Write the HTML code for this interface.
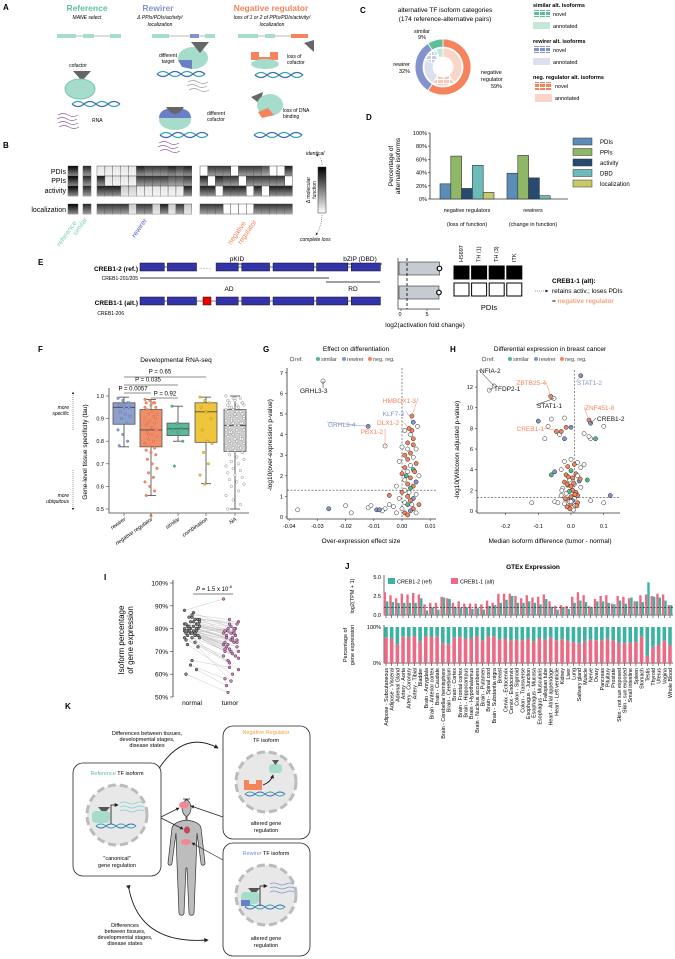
<!DOCTYPE html>
<html><head><meta charset="utf-8"><style>
html,body{margin:0;padding:0;background:#fff;}
svg{display:block;font-family:"Liberation Sans",Arial,sans-serif;}
</style></head><body>
<svg id="fig" width="675" height="959" viewBox="0 0 675 959" xmlns="http://www.w3.org/2000/svg">
<defs>
<linearGradient id="shade" x1="0" y1="0" x2="0" y2="1"><stop offset="0" stop-color="#fff" stop-opacity="0"/><stop offset="1" stop-color="#fff" stop-opacity="0.55"/></linearGradient>
<linearGradient id="legGrad" x1="0" y1="0" x2="0" y2="1"><stop offset="0" stop-color="#000"/><stop offset="1" stop-color="#fff"/></linearGradient>
<pattern id="hatchG" width="6" height="4" patternUnits="userSpaceOnUse"><rect width="6" height="4" fill="#fff"/><rect width="5" height="3" fill="#5cbf97"/></pattern>
<pattern id="hatchB" width="6" height="4" patternUnits="userSpaceOnUse"><rect width="6" height="4" fill="#fff"/><rect width="5" height="3" fill="#8393cc"/></pattern>
<pattern id="hatchO" width="6" height="4" patternUnits="userSpaceOnUse"><rect width="6" height="4" fill="#fff"/><rect width="5" height="3" fill="#f5845c"/></pattern>
<pattern id="hatchBl" width="6" height="4" patternUnits="userSpaceOnUse"><rect width="6" height="4" fill="#fff"/><rect width="5" height="3" fill="#c5cce6"/></pattern>
<pattern id="hatchOl" width="6" height="4" patternUnits="userSpaceOnUse"><rect width="6" height="4" fill="#fff"/><rect width="5" height="3" fill="#f8c9b6"/></pattern>
<pattern id="hatchGl" width="6" height="4" patternUnits="userSpaceOnUse"><rect width="6" height="4" fill="#fff"/><rect width="5" height="3" fill="#bfe5d4"/></pattern>
<marker id="arr" viewBox="0 0 6 6" refX="5" refY="3" markerWidth="5" markerHeight="5" orient="auto"><path d="M0,0L6,3L0,6z" fill="#222"/></marker>
</defs>

<!-- PANEL A -->
<g font-size="6">
<text x="3" y="10" font-size="8" font-weight="bold">A</text>
<text x="87" y="11" text-anchor="middle" font-size="8.5" font-weight="bold" fill="#5cc3a0">Reference</text>
<text x="87" y="19" text-anchor="middle" font-style="italic" font-size="5">MANE select</text>
<text x="158" y="11" text-anchor="middle" font-size="8.5" font-weight="bold" fill="#8393cc">Rewirer</text>
<text x="160" y="19" text-anchor="middle" font-style="italic" font-size="5">Δ PPIs/PDIs/activity/</text>
<text x="160" y="26" text-anchor="middle" font-style="italic" font-size="5">localization</text>
<text x="271" y="11" text-anchor="middle" font-size="8.5" font-weight="bold" fill="#f5845c">Negative regulator</text>
<text x="272" y="19" text-anchor="middle" font-style="italic" font-size="5">loss of 1 or 2 of PPIs/PDIs/activity/</text>
<text x="272" y="26" text-anchor="middle" font-style="italic" font-size="5">localization</text>
<g>
<line x1="57" y1="36" x2="120" y2="36" stroke="#bbb" stroke-width="1"/>
<rect x="57" y="34" width="19" height="4" fill="#a6dccb"/><rect x="83" y="34" width="11" height="4" fill="#a6dccb"/><rect x="110" y="34" width="11" height="4" fill="#a6dccb"/>
<line x1="152" y1="36" x2="215" y2="36" stroke="#bbb"/>
<rect x="152" y="34" width="17" height="4" fill="#a6dccb"/><rect x="190" y="34" width="9" height="4" fill="#8393cc"/><rect x="205" y="34" width="10" height="4" fill="#a6dccb"/>
<line x1="238" y1="36" x2="308" y2="36" stroke="#bbb"/>
<rect x="238" y="34" width="20" height="4" fill="#a6dccb"/><rect x="265" y="34" width="10" height="4" fill="#a6dccb"/><rect x="291" y="34" width="17" height="4" fill="#f5845c"/>
</g>
<g>
<text x="78" y="67" text-anchor="middle" font-size="5">cofactor</text>
<path d="M73,71 L91,71 L82,81 Z" fill="#666"/>
<ellipse cx="80" cy="89" rx="15" ry="10" fill="#a6dccb" stroke="#7cc7ae"/>
<path d="M72,104 q6,-5 12,0 t12,0 t12,0 t12,0" fill="none" stroke="#3aa" stroke-width="1.2"/>
<path d="M72,104 q6,5 12,0 t12,0 t12,0 t12,0" fill="none" stroke="#4466bb" stroke-width="1.2"/>
<path d="M58,115 q5,-3 10,0 t10,0 M57,119 q5,-3 10,0 t10,0 M58,123 q5,-3 10,0 t10,0 M59,127 q5,-3 10,0 t10,0" fill="none" stroke="#8a5a9a" stroke-width="0.7"/>
<text x="92" y="122" font-size="5">RNA</text>
</g>
<g>
<ellipse cx="193" cy="58" rx="15" ry="11" fill="#a6dccb"/>
<path d="M178,60 L192,60 L192,69 L182,67 Z" fill="#6b7fc7"/>
<path d="M191,42 L209,42 L200,53 Z" fill="#666"/>
<text x="168" y="57" text-anchor="middle" font-size="5">different</text><text x="168" y="63" text-anchor="middle" font-size="5">target</text>
<path d="M157,74 q6,-5 12,0 t12,0 t12,0 t12,0" fill="none" stroke="#3aa" stroke-width="1.2"/>
<path d="M157,74 q6,5 12,0 t12,0 t12,0 t12,0" fill="none" stroke="#4466bb" stroke-width="1.2"/>
<path d="M188,82 q5,-3 10,0 t10,0 M187,86 q5,-3 10,0 t10,0 M189,90 q5,-3 10,0 t10,0" fill="none" stroke="#999" stroke-width="0.7"/>
<ellipse cx="175" cy="120" rx="16" ry="10" fill="#a6dccb"/>
<path d="M159,118 q0,-10 16,-10 q16,0 16,10 z" fill="#6b7fc7"/>
<path d="M166,107 q9,14 18,0 z" fill="#666"/>
<text x="207" y="115" font-size="5">different</text><text x="207" y="121" font-size="5">cofactor</text>
<path d="M160,135 q6,-5 12,0 t12,0 t12,0 t12,0" fill="none" stroke="#3aa" stroke-width="1.2"/>
<path d="M160,135 q6,5 12,0 t12,0 t12,0 t12,0" fill="none" stroke="#4466bb" stroke-width="1.2"/>
<path d="M159,143 q5,-3 10,0 t10,0 M158,147 q5,-3 10,0 t10,0 M160,151 q5,-3 10,0 t10,0" fill="none" stroke="#8a5a9a" stroke-width="0.7"/>
</g>
<g>
<path d="M251,52 L259,52 L259,57 L270,57 L270,52 L278,52 L278,60 L251,60 Z" fill="#f5845c"/>
<ellipse cx="265" cy="64" rx="14" ry="5" fill="#a6dccb"/>
<path d="M304,43 L314,40 L314,52 Z" fill="#666"/>
<text x="287" y="58" font-size="5">loss of</text><text x="287" y="64" font-size="5">cofactor</text>
<path d="M255,75 q6,-5 12,0 t12,0 t12,0 t12,0" fill="none" stroke="#3aa" stroke-width="1.2"/>
<path d="M255,75 q6,5 12,0 t12,0 t12,0 t12,0" fill="none" stroke="#4466bb" stroke-width="1.2"/>
<path d="M251,97 L263,92 L260,104 Z" fill="#666"/>
<ellipse cx="270" cy="105" rx="13" ry="11" fill="#a6dccb"/>
<path d="M258,112 L268,108 L274,115 L262,118 Z" fill="#f5845c"/>
<text x="283" y="112" font-size="5">loss of DNA</text><text x="283" y="118" font-size="5">binding</text>
<path d="M254,135 q6,-5 12,0 t12,0 t12,0 t12,0" fill="none" stroke="#3aa" stroke-width="1.2"/>
<path d="M254,135 q6,5 12,0 t12,0 t12,0 t12,0" fill="none" stroke="#4466bb" stroke-width="1.2"/>
</g>
</g>

<!-- PANEL B -->
<g id="panelB">
<text x="3" y="148" font-size="8" font-weight="bold">B</text>
<text x="66" y="174" text-anchor="end" font-size="7">PDIs</text>
<text x="66" y="183" text-anchor="end" font-size="7">PPIs</text>
<text x="66" y="193" text-anchor="end" font-size="7">activity</text>
<text x="66" y="212" text-anchor="end" font-size="7">localization</text>
<rect x="318" y="167" width="8" height="46" fill="url(#legGrad)" stroke="#333" stroke-width="0.5"/>
<text x="306" y="155" font-size="5" font-style="italic">identical</text>
<text x="300" y="241" font-size="5" font-style="italic">complete loss</text>
<text transform="translate(313,190) rotate(-90)" text-anchor="middle" font-size="5"><tspan x="0" y="-3">Δ molecular</tspan><tspan x="0" y="3">function</tspan></text>
<path d="M322,165 q0,-9 -6,-10" fill="none" stroke="#333" stroke-width="0.5" stroke-dasharray="1,1" marker-end="url(#arr)"/>
<path d="M322,215 q0,10 -6,20" fill="none" stroke="#333" stroke-width="0.5" stroke-dasharray="1,1" marker-end="url(#arr)"/>
<text transform="translate(60,247) rotate(-55)" font-size="7" fill="#7fd1b6">reference</text>
<text transform="translate(76,236) rotate(-55)" font-size="7" fill="#7fd1b6">similar</text>
<text transform="translate(135,238) rotate(-55)" font-size="7" fill="#5566cc">rewirer</text>
<text transform="translate(231,245) rotate(-55)" font-size="7" fill="#f5845c"><tspan x="0" y="0">negative</tspan><tspan x="6" y="8">regulator</tspan></text>
</g>

<!-- PANEL C -->
<g id="panelC">
<text x="360" y="13" font-size="8" font-weight="bold">C</text>
<text x="445" y="12" text-anchor="middle" font-size="6.5">alternative TF isoform categories</text>
<text x="445" y="21" text-anchor="middle" font-size="6.5">(174 reference-alternative pairs)</text>
<text x="422" y="33" text-anchor="middle" font-size="5.5"><tspan x="422">similar</tspan><tspan x="422" dy="6">9%</tspan></text>
<text x="410" y="66" text-anchor="end" font-size="5.5"><tspan x="410">rewirer</tspan><tspan x="410" dy="7">32%</tspan></text>
<text x="481" y="74" font-size="5.5"><tspan x="481">negative</tspan><tspan x="481" dy="7">regulator</tspan><tspan x="491" dy="7">59%</tspan></text>
<g font-size="5.5">
<text x="533" y="7" font-weight="bold">similar alt. isoforms</text>
<rect x="533" y="10" width="17" height="7" fill="url(#hatchG)"/><text x="553" y="16">novel</text>
<rect x="533" y="22" width="17" height="7" fill="#c4e8d8"/><text x="553" y="28">annotated</text>
<text x="533" y="43" font-weight="bold">rewirer alt. isoforms</text>
<rect x="533" y="46" width="17" height="7" fill="url(#hatchB)"/><text x="553" y="52">novel</text>
<rect x="533" y="58" width="17" height="7" fill="#dcdfee"/><text x="553" y="64">annotated</text>
<text x="533" y="79" font-weight="bold">neg. regulator alt. isoforms</text>
<rect x="535" y="82" width="17" height="8" fill="url(#hatchO)"/><text x="555" y="88">novel</text>
<rect x="535" y="94" width="17" height="8" fill="#f8d5c7"/><text x="555" y="100">annotated</text>
</g>
</g>

<!-- PANEL D -->
<g id="panelD">
<text x="366" y="120" font-size="8" font-weight="bold">D</text>
<text transform="translate(393,166) rotate(-90)" text-anchor="middle" font-size="6.5"><tspan x="0" y="0">Percentage of</tspan><tspan x="0" y="7">alternative isoforms</tspan></text>
<text x="467" y="212" text-anchor="middle" font-size="5.5">negative regulators</text>
<text x="467" y="226" text-anchor="middle" font-size="5.5">(loss of function)</text>
<text x="533" y="212" text-anchor="middle" font-size="5.5">rewirers</text>
<text x="533" y="226" text-anchor="middle" font-size="5.5">(change in function)</text>
</g>

<!-- PANEL E -->
<g id="panelE">
<text x="38" y="265" font-size="8" font-weight="bold">E</text>
<text x="138" y="271" text-anchor="end" font-size="6.5" font-weight="bold">CREB1-2 (ref.)</text>
<text x="138" y="280" text-anchor="end" font-size="5">CREB1-201/205</text>
<text x="138" y="305" text-anchor="end" font-size="6.5" font-weight="bold">CREB1-1 (alt.)</text>
<text x="124" y="315" text-anchor="end" font-size="5">CREB1-206</text>
<text x="237" y="261" text-anchor="middle" font-size="6.5">pKID</text>
<line x1="223" y1="264" x2="252" y2="264" stroke="#000" stroke-width="0.8"/>
<text x="360" y="261" text-anchor="middle" font-size="6.5">bZIP (DBD)</text>
<line x1="338" y1="264" x2="382" y2="264" stroke="#000" stroke-width="0.8"/>
<line x1="140" y1="278" x2="329" y2="278" stroke="#000" stroke-width="0.8"/>
<line x1="326" y1="282" x2="380" y2="282" stroke="#000" stroke-width="0.8"/>
<text x="229" y="291" text-anchor="middle" font-size="6.5">AD</text>
<text x="353" y="291" text-anchor="middle" font-size="6.5">RD</text>
<text x="200" y="270" font-size="6" letter-spacing="1">····</text>
<text x="400" y="316" text-anchor="middle" font-size="5.5">0</text>
<text x="427" y="316" text-anchor="middle" font-size="5.5">5</text>
<text x="425" y="327" text-anchor="middle" font-size="6.5">log2(activation fold change)</text>
<text x="489" y="310" text-anchor="middle" font-size="7.5">PDIs</text>
<text x="552" y="283" font-size="6.5" font-weight="bold">CREB1-1 (alt):</text>
<text x="552" y="293" font-size="6.5">retains activ.; loses PDIs</text>
<text x="552" y="303" font-size="6.5">= <tspan fill="#f5a07a" font-weight="bold">negative regulator</tspan></text>
<line x1="535" y1="291" x2="548" y2="291" stroke="#333" stroke-width="0.6" stroke-dasharray="1,1" marker-end="url(#arr)"/>
</g>

<!-- PANEL F / G / H / I / J groups filled by script -->
<g id="panelF">
<text x="38" y="352" font-size="8" font-weight="bold">F</text>
<text x="176" y="362" text-anchor="middle" font-size="6.5">Developmental RNA-seq</text>
<text transform="translate(87,452) rotate(-90)" text-anchor="middle" font-size="6.5">Gene-level tissue specificity (tau)</text>
<text x="69" y="409" text-anchor="end" font-size="5" font-style="italic"><tspan x="69">more</tspan><tspan x="69" dy="6">specific</tspan></text>
<text x="69" y="497" text-anchor="end" font-size="5" font-style="italic"><tspan x="69">more</tspan><tspan x="69" dy="6">ubiquitous</tspan></text>
<line x1="73" y1="430" x2="73" y2="392" stroke="#333" stroke-width="0.5" stroke-dasharray="1,1" marker-end="url(#arr)"/>
<line x1="73" y1="470" x2="73" y2="510" stroke="#333" stroke-width="0.5" stroke-dasharray="1,1" marker-end="url(#arr)"/>
</g>
<g id="panelG">
<text x="263" y="352" font-size="8" font-weight="bold">G</text>
<text x="356" y="351" text-anchor="middle" font-size="6.5">Effect on differentiation</text>
<text transform="translate(272,445) rotate(-90)" text-anchor="middle" font-size="6.5">-log10(over-expression p-value)</text>
<text x="361" y="543" text-anchor="middle" font-size="6.5">Over-expression effect size</text>
</g>
<g id="panelH">
<text x="450" y="352" font-size="8" font-weight="bold">H</text>
<text x="550" y="351" text-anchor="middle" font-size="6.5">Differential expression in breast cancer</text>
<text transform="translate(459,450) rotate(-90)" text-anchor="middle" font-size="6.5">-log10(Wilcoxon adjusted p-value)</text>
<text x="550" y="543" text-anchor="middle" font-size="6.5">Median isoform difference (tumor - normal)</text>
</g>
<g id="panelI">
<text x="104" y="580" font-size="8" font-weight="bold">I</text>
<text transform="translate(126,640) rotate(-90)" text-anchor="middle" font-size="8"><tspan x="0" y="-2">Isoform percentage</tspan><tspan x="0" y="7">of gene expression</tspan></text>
<text x="214" y="591" text-anchor="middle" font-size="6"><tspan font-style="italic">P</tspan> = 1.5 x 10<tspan dy="-3" font-size="4">-8</tspan></text>
<line x1="193" y1="594" x2="233" y2="594" stroke="#000" stroke-width="0.6"/>
</g>
<g id="panelJ">
<text x="345" y="569" font-size="8" font-weight="bold">J</text>
<text x="533" y="569" text-anchor="middle" font-size="6.5" font-weight="bold">GTEx Expression</text>
<text transform="translate(354,596) rotate(-90)" text-anchor="middle" font-size="5.5">log2(TPM + 1)</text>
<text transform="translate(347,645) rotate(-90)" text-anchor="middle" font-size="5.5"><tspan x="0" y="0">Percentage of</tspan><tspan x="0" y="7">gene expression</tspan></text>
<rect x="388" y="578" width="7" height="6" fill="#3bb3a3"/>
<text x="397" y="583.5" font-size="5.5">CREB1-2 (ref)</text>
<rect x="451" y="578" width="7" height="6" fill="#ec6a84"/>
<text x="460" y="583.5" font-size="5.5">CREB1-1 (alt)</text>
</g>

<!-- PANEL K -->
<g id="panelK" font-size="5.5">
<text x="65" y="709" font-size="8" font-weight="bold">K</text>
<text x="147" y="735" text-anchor="middle"><tspan x="147">Differences between tissues,</tspan><tspan x="147" dy="6">developmental stages,</tspan><tspan x="147" dy="6">disease states</tspan></text>
<text x="125" y="927" text-anchor="middle"><tspan x="125">Differences</tspan><tspan x="125" dy="6">between tissues,</tspan><tspan x="125" dy="6">developmental stages,</tspan><tspan x="125" dy="6">disease states</tspan></text>
<path d="M160,767 Q185,730 218,748" fill="none" stroke="#222" stroke-width="0.9" marker-end="url(#arr)" marker-start="url(#arr)"/>
<path d="M129,889 Q140,945 208,940" fill="none" stroke="#222" stroke-width="0.9" marker-end="url(#arr)" marker-start="url(#arr)"/>
<g>
<rect x="73" y="763" width="88" height="113" rx="10" fill="#fff" stroke="#222" stroke-width="0.8"/>
<text x="117" y="775" text-anchor="middle"><tspan fill="#5cc3a0">Reference</tspan> TF isoform</text>
<circle cx="117" cy="815" r="30" fill="#e8e8e8" stroke="#bbb" stroke-width="3" stroke-dasharray="8,4"/>
<path d="M98,807 L110,807 L104,814 Z" fill="#555"/>
<rect x="92" y="811" width="18" height="12" rx="4" fill="#a6dccb"/>
<path d="M111,824 L111,805 L118,805" fill="none" stroke="#111" stroke-width="0.8" marker-end="url(#arr)"/>
<path d="M120,803 q4,-2 8,0 t8,0 t8,0 M120,807 q4,-2 8,0 t8,0 t8,0 M120,811 q4,-2 8,0 t8,0 t8,0" fill="none" stroke="#7fd1d0" stroke-width="0.7"/>
<path d="M96,826 q5,-4 10,0 t10,0 t10,0 t10,0" fill="none" stroke="#3aa" stroke-width="1"/>
<path d="M96,826 q5,4 10,0 t10,0 t10,0 t10,0" fill="none" stroke="#4466bb" stroke-width="1"/>
<text x="117" y="860" text-anchor="middle"><tspan x="117">"canonical"</tspan><tspan x="117" dy="7">gene regulation</tspan></text>
</g>
<g>
<rect x="223" y="726" width="87" height="113" rx="10" fill="#fff" stroke="#222" stroke-width="0.8"/>
<text x="266" y="734" text-anchor="middle" fill="#f5a040">Negative Regulator</text>
<text x="266" y="742" text-anchor="middle">TF isoform</text>
<circle cx="266" cy="782" r="30" fill="#e8e8e8" stroke="#bbb" stroke-width="3" stroke-dasharray="8,4"/>
<path d="M244,780 L249,780 L249,784 L256,784 L256,780 L262,780 L262,790 L244,790 Z" fill="#f5845c"/>
<rect x="269" y="764" width="13" height="9" rx="3" fill="#a6dccb"/><path d="M272,760 L279,760 L275.5,765 Z" fill="#555"/>
<path d="M263,785 q8,-3 10,-10" fill="none" stroke="#111" stroke-width="0.8" marker-end="url(#arr)"/>
<path d="M245,794 q5,-4 10,0 t10,0 t10,0 t10,0" fill="none" stroke="#3aa" stroke-width="1"/>
<path d="M245,794 q5,4 10,0 t10,0 t10,0 t10,0" fill="none" stroke="#4466bb" stroke-width="1"/>
<text x="266" y="825" text-anchor="middle"><tspan x="266">altered gene</tspan><tspan x="266" dy="7">regulation</tspan></text>
</g>
<g>
<rect x="223" y="843" width="87" height="113" rx="10" fill="#fff" stroke="#222" stroke-width="0.8"/>
<text x="266" y="855" text-anchor="middle"><tspan fill="#6f8fd8">Rewirer</tspan> TF isoform</text>
<circle cx="266" cy="895" r="30" fill="#e8e8e8" stroke="#bbb" stroke-width="3" stroke-dasharray="8,4"/>
<path d="M248,888 L260,888 L254,895 Z" fill="#555"/>
<rect x="241" y="892" width="18" height="12" rx="4" fill="#a6dccb"/>
<rect x="241" y="900" width="9" height="6" fill="#6b7fc7"/>
<path d="M260,906 L260,886 L267,886" fill="none" stroke="#111" stroke-width="0.8" marker-end="url(#arr)"/>
<path d="M270,884 q4,-2 8,0 t8,0 t8,0 M270,888 q4,-2 8,0 t8,0 t8,0 M270,892 q4,-2 8,0 t8,0 t8,0" fill="none" stroke="#8393cc" stroke-width="0.7"/>
<path d="M245,907 q5,-4 10,0 t10,0 t10,0 t10,0" fill="none" stroke="#3aa" stroke-width="1"/>
<path d="M245,907 q5,4 10,0 t10,0 t10,0 t10,0" fill="none" stroke="#4466bb" stroke-width="1"/>
<text x="266" y="940" text-anchor="middle"><tspan x="266">altered gene</tspan><tspan x="266" dy="7">regulation</tspan></text>
</g>
<g>
<path d="M183,799 c6,0 8,5 8,9 c0,5 -3,8 -5,9 l0,3 c8,1 14,3 15,8 l4,35 c0,3 -4,3 -4,0 l-4,-30 l-1,30 l-2,50 c0,3 -5,3 -5,0 l-2,-45 l-1,0 l-2,45 c0,3 -5,3 -5,0 l-2,-50 l-1,-30 l-4,30 c0,3 -4,3 -4,0 l4,-35 c1,-5 7,-7 15,-8 l0,-3 c-2,-1 -5,-4 -5,-9 c0,-4 2,-9 8,-9 z" fill="#bdbdbd" stroke="#333" stroke-width="0.7"/>
<ellipse cx="184" cy="805" rx="5" ry="3.5" fill="#ee8a96"/>
<ellipse cx="187" cy="830" rx="3" ry="3.5" fill="#c2455a"/>
<ellipse cx="186" cy="842" rx="5" ry="3" fill="#ee8a96"/>
</g>
<line x1="161" y1="817" x2="179" y2="808" stroke="#222" stroke-width="0.7" marker-end="url(#arr)"/>
<line x1="161" y1="818" x2="183" y2="829" stroke="#222" stroke-width="0.7" marker-end="url(#arr)"/>
<line x1="223" y1="817" x2="191" y2="806" stroke="#222" stroke-width="0.7" marker-end="url(#arr)"/>
<line x1="223" y1="860" x2="192" y2="843" stroke="#222" stroke-width="0.7" marker-end="url(#arr)"/>
</g>
</svg>

<script>
const NS = "http://www.w3.org/2000/svg";
// ---------- DATA ----------
// Panel B heatmap (0 = complete loss / white, 1 = identical / black)
const bRewirerPDI = [0.1,0.1,0.1,0.1,0.1,0.9,0.8,0.8,0.8,0.9,0.8,0.9];
const bRewirerPPI = [0.9,0.1,0.1,0.1,0.1,0.8,0.8,0.8,0.8,0.7,0.7,0.8];
const bRewirerAct = [0.9,0.9,0.9,0.2,0.2,0.1,0.1,0.1,0.1,0.1,0.1,0.9];
const bRewirerLoc = [0.8,0.8,0.8,0.8,0.2,0.8,0.8,0.2,0.9,0.2,0.8,0.2];
const bNegPDI = [0,0.8,0.8,0.8,0,0.8,0.8,0.8,0.7,0,0,0.9];
const bNegPPI = [0.9,0,0.9,0.8,0.8,0,0.8,0.8,0.8,0.8,0.8,0];
const bNegAct = [0.9,0.9,0,0.9,0.9,0.9,0,0.9,0,0.9,0.9,0.9];
const bNegLoc = [0.8,0.8,0.8,0,0,0,0,0.8,0.8,0.8,0.8,0.8];
// Panel C donut
const cOuterCats = ["negative regulator","rewirer","similar"];
const cOuterPct = [59,32,9];
const cInnerCats = ["neg annotated","neg novel","rewirer annotated","rewirer novel","similar novel","similar annotated"];
const cInnerPct = [40,19,22,10,3,6];
// Panel D
const dGroups = ["negative regulators","rewirers"];
const dFeatures = ["PDIs","PPIs","activity","DBD","localization"];
const dNegVals = [23,65,16,51,10];
const dRewVals = [39,66,32,5,0];
const dTicks = [0,20,40,60,80,100];
// Panel E
const eIsoforms = ["CREB1-2 (ref.)","CREB1-1 (alt.)"];
const eActivation = [7.4,7.3];
const ePDINames = ["HS697","TH (1)","TH (3)","ITK"];
const ePDIRef = [1,1,1,1];
const ePDIAlt = [0,0,0,0];
// Panel F
const fCats = ["rewirer","negative regulator","similar","combination","NA"];
const fQ1 = [0.875,0.775,0.825,0.795,0.755];
const fMed = [0.950,0.850,0.855,0.930,0.870];
const fQ3 = [0.970,0.940,0.880,0.970,0.940];
const fLo = [0.775,0.560,0.800,0.612,0.500];
const fHi = [0.995,0.985,0.955,0.995,1.000];
const fTicks = [0.5,0.6,0.7,0.8,0.9,1.0];
const fDotsRew = [0.99,0.98,0.97,0.96,0.95,0.95,0.93,0.92,0.91,0.90,0.88,0.85,0.83,0.80,0.78,0.96,0.97];
const fDotsNeg = [0.985,0.98,0.97,0.97,0.96,0.95,0.94,0.93,0.92,0.92,0.91,0.90,0.89,0.88,0.87,0.86,0.85,0.84,0.83,0.82,0.81,0.80,0.79,0.78,0.77,0.76,0.75,0.74,0.72,0.70,0.68,0.66,0.64,0.62,0.60,0.58,0.56,0.47,0.90,0.88,0.86,0.85,0.83,0.97,0.95];
const fDotsSim = [0.955,0.88,0.86,0.85,0.84,0.80,0.69];
const fDotsCom = [0.995,0.98,0.97,0.95,0.93,0.90,0.85,0.80,0.79,0.75,0.70,0.65,0.61];
const fDotsNA = [1.0,0.99,0.99,0.98,0.98,0.97,0.97,0.96,0.96,0.95,0.95,0.94,0.94,0.93,0.93,0.92,0.92,0.91,0.91,0.90,0.90,0.89,0.89,0.88,0.88,0.87,0.87,0.86,0.86,0.85,0.85,0.84,0.84,0.83,0.83,0.82,0.82,0.81,0.81,0.80,0.80,0.79,0.79,0.78,0.78,0.77,0.77,0.76,0.76,0.75,0.74,0.73,0.72,0.71,0.70,0.69,0.68,0.67,0.66,0.65,0.64,0.63,0.62,0.61,0.60,0.58,0.56,0.54,0.52,0.50,0.99,0.97,0.95,0.93,0.91,0.89,0.87,0.85,0.83,0.81,0.96,0.92,0.88,0.84,0.80];
const fPvals = ["P = 0.65","P = 0.035","P = 0.0057","P = 0.92"];
// Panel G
const gX = [0.001,0.003,0.004,0.002,0.0,0.005,0.003,0.001,0.004,0.002,-0.001,0.005,0.003,0.001,0.004,0.002,0.0,0.006,0.003,0.001,0.005,0.002,-0.002,0.004,0.003,0.001,0.0,0.005,0.002,0.004,-0.001,0.003,0.001,0.006,0.002,-0.003,0.004,0.0,0.003,0.001,-0.002,0.005,0.002,0.004,0.002,0.0055,0.0035,0.0045,0.0015,0.0025,0.0035,-0.0045,-0.006,-0.007,-0.037,-0.026,-0.02,-0.018,-0.012,-0.011,-0.009,-0.008,-0.0045,-0.012,-0.028,0.0035,0.004,0.0025,-0.006];
const gY = [4.2,4.0,3.8,3.6,3.4,3.3,3.1,3.0,2.9,2.8,2.7,2.6,2.5,2.4,2.3,2.2,2.1,2.0,1.9,1.8,1.7,1.6,1.5,1.5,1.4,1.3,1.2,1.1,1.0,0.9,0.9,0.8,0.7,0.6,0.6,0.5,0.4,0.4,0.3,0.2,0.2,0.2,0.1,3.5,3.3,4.4,4.2,2.2,2.0,1.2,0.6,0.6,0.4,0.3,0.35,0.4,0.55,0.2,0.45,0.55,0.35,0.35,1.05,4.4,6.6,4.9,4.6,4.3,3.45];
const gT = "wwnnwwnnwnwnwnswnwnwrnwnswnwnrwnwnswnwrnwwnnwwnnswwwwwwrwwwwrrnrwnrnw";
const gLabels = ["GRHL3-3","GRHL3-4","HMBOX1-3","KLF7-3","DLX1-2","PBX1-2"];
const gLabelIdx = [64,63,65,66,67,68];
const gXTicks = [-0.04,-0.03,-0.02,-0.01,0.00,0.01];
const gYTicks = [0,1,2,3,4,5,6,7];
// Panel H
const hX = [0.0,-0.02,0.02,0.01,-0.01,0.03,-0.03,0.0,-0.05,0.015,-0.015,0.02,0.005,-0.005,0.025,-0.02,0.01,-0.01,0.0,0.03,-0.025,0.005,-0.005,0.015,-0.015,0.02,-0.03,0.0,0.01,-0.01,0.005,-0.005,0.02,-0.02,0.0,0.012,-0.012,0.003,-0.003,0.008,-0.06,0.04,0.05,0.06,-0.12,-0.05,-0.04,0.1,0.12,0.06,0.055,0.1,0.075,0.04,-0.1,-0.06,-0.02,-0.015,-0.035,-0.045,-0.08,-0.02,0.0,-0.07,-0.235,-0.25,-0.062,-0.052,0.03,0.055,0.06,-0.03,0.008,-0.008,0.018,-0.018,0.028,-0.028,0.0,0.012,-0.012];
const hY = [5.0,4.8,4.7,4.5,4.3,4.2,4.0,3.9,3.8,3.6,3.5,3.4,3.2,3.0,2.9,2.8,2.6,2.5,2.4,2.3,2.2,2.0,1.9,1.8,1.7,1.5,1.5,1.4,1.2,1.1,1.0,0.9,0.8,0.7,0.6,0.5,0.4,0.3,0.2,0.1,3.5,4.5,3.0,1.0,0.8,0.9,0.8,0.8,1.5,7.0,7.2,8.2,7.0,7.5,8.7,8.9,9.0,8.1,7.4,7.7,7.0,7.0,8.1,8.2,12.1,11.7,11.1,10.9,13.1,8.8,8.5,7.7,2.7,3.3,0.5,1.2,3.1,2.0,0.9,1.6,2.6];
const hT = "wwwnnwwsrnnwnwrnwnnwwnsnwnwnwnrwnwnwnwnwswswwwwwrwwwswrwwnwnwrrwwwnwrnrnnnnnnwwnn";
const hLabels = ["NFIA-2","TFDP2-1","ZBTB25-4","STAT1-1","STAT1-2","ZNF451-8","CREB1-2","CREB1-1"];
const hLabelIdx = [64,65,66,67,68,69,70,71];
const hXTicks = [-0.2,-0.1,0.0,0.1];
const hYTicks = [0,2,4,6,8,10,12];
// Panel I
const iNormal = [82,80,79,78,85,77,81,83,76,80,84,79,78,82,75,86,80,77,81,83,79,74,88,78,80,82,76,84,73,79,81,85,77,80,64,62,60,78,82,79,87,84,81,78,76,83,80,79,66,72];
const iTumor  = [78,74,72,80,82,70,76,79,68,75,83,73,71,77,66,84,75,69,78,80,72,62,93,70,76,79,65,81,60,74,77,82,67,73,58,55,52,71,78,75,80,77,74,70,68,79,76,73,63,57];
const iTicks = [50,60,70,80,90,100];
// Panel J
const jTissues = ["Adipose - Subcutaneous","Adipose - Visceral","Adrenal Gland","Artery - Aorta","Artery - Coronary","Artery - Tibial","Bladder","Brain - Amygdala","Brain - Anterior cortex","Brain - Caudate","Brain - Cerebellar hemisphere","Brain - Cerebellum","Brain - Cortex","Brain - Frontal cortex","Brain - Hippocampus","Brain - Hypothalamus","Brain - Nucleus accumbens","Brain - Putamen","Brain - Spinal cord","Brain - Substantia nigra","Breast","Cervix - Ectocervix","Cervix - Endocervix","Colon - Sigmoid","Colon - Transverse","Esophagus - Junction","Esophagus - Mucosa","Esophagus - Muscularis","Fallopian tube","Heart - Atrial appendage","Heart - Left ventricle","Kidney","Liver","Lung","Salivary gland","Muscle","Nerve","Ovary","Pancreas","Pituitary","Prostate","Skin - not sun exposed","Skin - sun exposed","Small intestine","Spleen","Stomach","Testis","Thyroid","Uterus","Vagina","Whole Blood"];
const jRef = [1.8,1.7,1.6,1.6,1.6,1.6,2.2,0.6,1.0,0.7,2.3,2.1,1.1,1.0,1.0,0.8,0.9,0.7,1.2,1.3,1.6,2.0,2.5,1.6,1.6,1.8,1.6,1.4,2.1,1.1,0.7,1.0,0.8,1.6,1.9,1.7,1.0,1.8,1.8,1.6,1.4,1.9,1.5,2.3,1.8,1.7,4.3,2.4,2.3,1.9,1.3];
const jAlt = [3.0,2.6,2.2,2.8,2.7,2.9,2.7,1.4,1.6,1.6,2.4,2.2,1.6,1.8,1.5,1.5,1.5,1.4,1.9,1.6,2.8,2.8,2.8,2.5,2.2,2.6,2.3,2.4,2.7,1.8,1.2,1.3,1.2,2.4,3.0,2.6,1.2,2.1,2.5,2.6,1.5,2.5,2.4,2.2,1.8,2.6,2.7,2.5,2.8,2.7,1.3];
const jAltPct = [70,68,52,73,72,75,60,75,72,74,55,52,70,72,67,68,75,62,74,74,65,68,62,65,62,67,60,68,65,70,62,66,62,58,55,60,65,63,62,67,63,57,55,56,58,73,20,45,50,62,50];
const jTopTicks = [0.0,2.5,5.0];

// ---------- helpers ----------
function el(tag, parent){ const e=document.createElementNS(NS,tag); parent.appendChild(e); return e; }
function at(e,o){ for(const k in o) e.setAttribute(k,o[k]); return e; }
const grey = v => { const c=Math.round(255*(1-v)); return `rgb(${c},${c},${c})`; };
const colT = {w:"#ffffff", s:"#4dbb8c", r:"#8393cc", n:"#f5845c"};

// ---------- Panel B ----------
(function(){
  const g=document.getElementById("panelB");
  function cell(x,y,w,h,v,name){
    const r=el("rect",g); at(r,{x:x,y:y,width:w,height:h,fill:grey(v),stroke:"#333","stroke-width":0.4});
    
    
    if(v>0.05){ const o=el("rect",g); at(o,{x:x,y:y,width:w,height:h,fill:"url(#shade)"}); }
  }
  const rows=[166,176,186];
  for(let r=0;r<3;r++){ cell(68,rows[r],10,10,1,"heat-reference"); cell(83,rows[r],8,10,0.85,"heat-similar"); }
  cell(68,204,10,10,1,"heat-reference-loc"); cell(83,204,8,10,0.85,"heat-similar-loc");
  const rw=[bRewirerPDI,bRewirerPPI,bRewirerAct];
  const ng=[bNegPDI,bNegPPI,bNegAct];
  for(let r=0;r<3;r++) for(let c=0;c<12;c++){
    cell(97+c*7.9,rows[r],7.9,10,rw[r][c],"heat-rewirer-cell");
    cell(200+c*7.7,rows[r],7.7,10,ng[r][c],"heat-negreg-cell");
  }
  for(let c=0;c<12;c++){ cell(97+c*7.9,204,7.9,10,bRewirerLoc[c],"heat-rewirer-loc"); cell(200+c*7.7,204,7.7,10,bNegLoc[c],"heat-negreg-loc"); }
})();

// ---------- Panel C ----------
(function(){
  const g=document.getElementById("panelC");
  const cx=443, cy=67;
  function arc(r0,r1,a0,a1,fill,name){
    const A=p=>(p/100*360-90)*Math.PI/180;
    const t0=A(a0),t1=A(a1),lg=(a1-a0)>50?1:0;
    const d=`M${cx+r1*Math.cos(t0)},${cy+r1*Math.sin(t0)} A${r1},${r1} 0 ${lg} 1 ${cx+r1*Math.cos(t1)},${cy+r1*Math.sin(t1)} L${cx+r0*Math.cos(t1)},${cy+r0*Math.sin(t1)} A${r0},${r0} 0 ${lg} 0 ${cx+r0*Math.cos(t0)},${cy+r0*Math.sin(t0)} Z`;
    const p=el("path",g); at(p,{d:d,fill:fill,stroke:"#fff","stroke-width":0.8});
    
    
  }
  const oc=["#f5845c","#8393cc","#5cbf97"];
  let s=0; cOuterPct.forEach((v,i)=>{ arc(20,28,s,s+v,oc[i],"donut-outer-"+i); s+=v; });
  const ic=["#f8d5c7","url(#hatchOl)","#dcdfee","url(#hatchBl)","url(#hatchGl)","#c4e8d8"];
  s=0; cInnerPct.forEach((v,i)=>{ arc(10,19,s,s+v,ic[i],"donut-inner-"+i); s+=v; });
})();

// ---------- Panel D ----------
(function(){
  const g=document.getElementById("panelD");
  const y=v=>199-v*0.66;
  const ax=el("path",g); at(ax,{d:"M430,133 L430,199 L568,199",fill:"none",stroke:"#333","stroke-width":0.8});
   
  dTicks.forEach(t=>{ const tx=el("text",g); at(tx,{x:427,y:y(t)+2,"text-anchor":"end","font-size":5.5}); tx.textContent=t+"%";
     
    const l=el("line",g); at(l,{x1:428,x2:430,y1:y(t),y2:y(t),stroke:"#333","stroke-width":0.6}); });
  const cols=["#5b8db8","#8fb866","#264a70","#6bbcb8","#c8c96a"];
  const starts=[440,507];
  [dNegVals,dRewVals].forEach((vals,gi)=>{
    vals.forEach((v,i)=>{ if(v<=0) return; const r=el("rect",g);
      at(r,{x:starts[gi]+i*10.8,y:y(v),width:10.8,height:199-y(v),fill:cols[i],stroke:"#333","stroke-width":0.6});
      
       });
  });
  dFeatures.forEach((f,i)=>{ const r=el("rect",g); at(r,{x:573,y:138+i*10.5,width:19,height:7,fill:cols[i],stroke:"#333","stroke-width":0.5});
     
    const t=el("text",g); at(t,{x:600,y:144+i*10.5,"font-size":6}); t.textContent=f;
      });
})();

// ---------- Panel E ----------
(function(){
  const g=document.getElementById("panelE");
  const exons=[[322,378],[385,452],[497,548],[556,620],[628,722],[728,800],[808,875]];
  [267,301].forEach((yy,k)=>{
    exons.forEach(e=>{ const r=el("rect",g); at(r,{x:e[0]/2.3,y:yy-4,width:(e[1]-e[0])/2.3,height:8,fill:"#3333aa",stroke:"#111","stroke-width":0.5});
        });
    for(let i=0;i<exons.length-1;i++){ if(k===0&&i===1) continue; const l=el("line",g); at(l,{x1:exons[i][1]/2.3,x2:exons[i+1][0]/2.3,y1:yy,y2:yy,stroke:"#111","stroke-width":0.6}); }
  });
  const red=el("rect",g); at(red,{x:203,y:297,width:8,height:8,fill:"#e00",stroke:"#111","stroke-width":0.5});
   
  const x=v=>401+v*5.2;
  const ys=[262,286];
  eActivation.forEach((v,i)=>{ const r=el("rect",g); at(r,{x:399,y:ys[i],width:x(v)-399,height:13,fill:"#c5cbd1",stroke:"#333","stroke-width":0.6});
     
    const c=el("circle",g); at(c,{cx:x(v),cy:ys[i]+6.5,r:2.3,fill:"#fff",stroke:"#000","stroke-width":1.2}); });
  const ax=el("path",g); at(ax,{d:"M398,258 L398,309 L440,309",fill:"none",stroke:"#333","stroke-width":0.7});
  [x(0),x(5)].forEach(t=>{ const l=el("line",g); at(l,{x1:t,x2:t,y1:309,y2:311,stroke:"#333","stroke-width":0.6}); });
  const d=el("line",g); at(d,{x1:407,x2:407,y1:258,y2:309,stroke:"#000","stroke-width":0.8,"stroke-dasharray":"3,2"});
  ePDINames.forEach((n,i)=>{ const xx=454+i*17.6;
    const t=el("text",g); at(t,{transform:`translate(${xx+9},262) rotate(-90)`,"font-size":5.5}); t.textContent=n;
     
    const a=el("rect",g); at(a,{x:xx,y:266,width:15,height:13,fill:ePDIRef[i]?"#000":"#fff",stroke:"#000","stroke-width":1});
     
    const b=el("rect",g); at(b,{x:xx,y:283,width:15,height:13,fill:ePDIAlt[i]?"#000":"#fff",stroke:"#000","stroke-width":1});
      });
})();

// ---------- Panel F ----------
(function(){
  const g=document.getElementById("panelF");
  const y=v=>396+(1.0-v)*226;
  const cx=[124,151,178,206,235];
  const cols=["#8ea0cc","#f0906b","#5cb89a","#efc53c","#cfcfcf"];
  const dcol=["#5566aa","#d4663c","#2e8a6a","#a88a10","#777"];
  const ax=el("path",g); at(ax,{d:"M109,388 L109,513 L249,513",fill:"none",stroke:"#444","stroke-width":0.8});
   
  fTicks.forEach(t=>{ const tx=el("text",g); at(tx,{x:104,y:y(t)+2,"text-anchor":"end","font-size":5.5}); tx.textContent=t.toFixed(1);
     
    const l=el("line",g); at(l,{x1:106,x2:109,y1:y(t),y2:y(t),stroke:"#444","stroke-width":0.6}); });
  const dots=[fDotsRew,fDotsNeg,fDotsSim,fDotsCom,fDotsNA];
  fCats.forEach((c,i)=>{
    const w=22, x0=cx[i]-w/2;
    const wl=el("line",g); at(wl,{x1:cx[i],x2:cx[i],y1:y(fLo[i]),y2:y(fHi[i]),stroke:"#444","stroke-width":0.8});
    [fLo[i],fHi[i]].forEach(v=>{ const cap=el("line",g); at(cap,{x1:cx[i]-5,x2:cx[i]+5,y1:y(v),y2:y(v),stroke:"#444","stroke-width":0.8}); });
    const b=el("rect",g); at(b,{x:x0,y:y(fQ3[i]),width:w,height:y(fQ1[i])-y(fQ3[i]),fill:cols[i],stroke:"#555","stroke-width":0.8});
     
    const m=el("line",g); at(m,{x1:x0,x2:x0+w,y1:y(fMed[i]),y2:y(fMed[i]),stroke:"#444","stroke-width":0.9});
    dots[i].forEach((v,k)=>{ const jit=((k*37)%11-5)/5*(i===4?9:6);
      const d=el("circle",g); at(d,{cx:cx[i]+jit,cy:y(v),r:1.3,fill:i===4?"#fff":cols[i],stroke:dcol[i],"stroke-width":0.4});
        });
    const tk=el("line",g); at(tk,{x1:cx[i],x2:cx[i],y1:513,y2:516,stroke:"#444","stroke-width":0.6});
    const lb=el("text",g); at(lb,{transform:`translate(${cx[i]+2},520) rotate(-35)`,"text-anchor":"end","font-size":5.5,"font-style":"italic"}); lb.textContent=c;
     
  });
  const brackets=[[0,3,377,160,374],[0,2,385,148,382],[0,1,393,133,391],[1,2,398,165,396]];
  brackets.forEach((b,i)=>{ const l=el("line",g); at(l,{x1:cx[b[0]],x2:cx[b[1]],y1:b[2],y2:b[2],stroke:"#666","stroke-width":0.8});
    const t=el("text",g); at(t,{x:b[3],y:b[4]-0.5,"text-anchor":"middle","font-size":6}); t.textContent=fPvals[i];
      });
})();

// ---------- scatter helper ----------
function scatter(g,xs,ys,ts,xf,yf,prefix){
  xs.forEach((v,i)=>{ const c=el("circle",g); at(c,{cx:xf(v),cy:yf(ys[i]),r:2.1,fill:colT[ts[i]]||"#fff",stroke:"#222","stroke-width":0.5});
    
     });
}
function legend(g,x0,y0,prefix){
  const items=[["ref.","w"],["similar","s"],["rewirer","r"],["neg. reg.","n"]];
  const xs=[0,26,52,78];
  items.forEach((it,i)=>{ const c=el("circle",g); at(c,{cx:x0+xs[i],cy:y0-2,r:2,fill:colT[it[1]],stroke:it[1]==="w"?"#222":"none","stroke-width":0.5});
    const t=el("text",g); at(t,{x:x0+xs[i]+3,y:y0,"font-size":5.5,fill:"#444"}); t.textContent=it[0];
      });
}

// ---------- Panel G ----------
(function(){
  const g=document.getElementById("panelG");
  const x=v=>402+v*2820, y=v=>517-v*20.6;
  legend(g,292,361,"g");
  const ax=el("path",g); at(ax,{d:`M287,368 L287,519 L436,519`,fill:"none",stroke:"#333","stroke-width":0.8});
  gYTicks.forEach(t=>{ const tx=el("text",g); at(tx,{x:283,y:y(t)+2,"text-anchor":"end","font-size":5.5}); tx.textContent=t;
     
    const l=el("line",g); at(l,{x1:285,x2:287,y1:y(t),y2:y(t),stroke:"#333","stroke-width":0.6}); });
  gXTicks.forEach(t=>{ const tx=el("text",g); at(tx,{x:x(t),y:528,"text-anchor":"middle","font-size":5.5}); tx.textContent=t.toFixed(2);
     
    const l=el("line",g); at(l,{x1:x(t),x2:x(t),y1:519,y2:521,stroke:"#333","stroke-width":0.6}); });
  const dv=el("line",g); at(dv,{x1:x(0),x2:x(0),y1:368,y2:519,stroke:"#444","stroke-width":0.6,"stroke-dasharray":"2,1.5"});
  const dh=el("line",g); at(dh,{x1:287,x2:436,y1:y(1.3),y2:y(1.3),stroke:"#444","stroke-width":0.6,"stroke-dasharray":"2,1.5"});
  scatter(g,gX,gY,gT,x,y,"g");
  const lp=[[300,393,"start","#111"],[328,427,"start","#8393cc"],[416,403,"end","#f5845c"],[404,416,"end","#8393cc"],[399,425,"end","#f5845c"],[383,434,"end","#f5845c"]];
  gLabels.forEach((n,i)=>{ const k=gLabelIdx[i]; const p=lp[i];
    const l=el("line",g); at(l,{x1:x(gX[k]),y1:y(gY[k]),x2:p[2]==="start"&&i===0?x(gX[k]):p[0]+(p[2]==="end"?2:-1),y2:p[1]-5,stroke:p[3],"stroke-width":0.5});
    const t=el("text",g); at(t,{x:p[0],y:p[1],"text-anchor":p[2],"font-size":6.5,fill:p[3]}); t.textContent=n;
      });
})();

// ---------- Panel H ----------
(function(){
  const g=document.getElementById("panelH");
  const x=v=>571+v*327, y=v=>511-v*10.33;
  legend(g,484,361,"h");
  const ax=el("path",g); at(ax,{d:`M477,370 L477,513 L620,513`,fill:"none",stroke:"#333","stroke-width":0.8});
  hYTicks.forEach(t=>{ const tx=el("text",g); at(tx,{x:473,y:y(t)+2,"text-anchor":"end","font-size":5.5}); tx.textContent=t;
     
    const l=el("line",g); at(l,{x1:475,x2:477,y1:y(t),y2:y(t),stroke:"#333","stroke-width":0.6}); });
  hXTicks.forEach(t=>{ const tx=el("text",g); at(tx,{x:x(t),y:528,"text-anchor":"middle","font-size":5.5}); tx.textContent=t.toFixed(1);
     
    const l=el("line",g); at(l,{x1:x(t),x2:x(t),y1:513,y2:515,stroke:"#333","stroke-width":0.6}); });
  const dv=el("line",g); at(dv,{x1:x(0.01),x2:x(0.01),y1:370,y2:513,stroke:"#444","stroke-width":0.6,"stroke-dasharray":"2,1.5"});
  const dh=el("line",g); at(dh,{x1:477,x2:620,y1:y(1.3),y2:y(1.3),stroke:"#444","stroke-width":0.6,"stroke-dasharray":"2,1.5"});
  scatter(g,hX,hY,hT,x,y,"h");
  const lp=[[480,373,"start","#111"],[494,391,"start","#111"],[546,385,"end","#f5845c"],[537,408,"start","#111"],[577,385,"start","#8393cc"],[585,410,"start","#f5845c"],[597,421,"start","#111"],[544,431,"end","#f5845c"]];
  hLabels.forEach((n,i)=>{ const k=hLabelIdx[i]; const p=lp[i];
    const l=el("line",g); at(l,{x1:x(hX[k]),y1:y(hY[k]),x2:p[2]==="end"?p[0]:p[0]-1,y2:p[1]-3,stroke:p[3],"stroke-width":0.5});
    const t=el("text",g); at(t,{x:p[0],y:p[1],"text-anchor":p[2],"font-size":6.5,fill:p[3]}); t.textContent=n;
      });
})();

// ---------- Panel I ----------
(function(){
  const g=document.getElementById("panelI");
  const y=v=>583+(100-v)*2.28;
  const ax=el("path",g); at(ax,{d:"M173,580 L173,697",fill:"none",stroke:"#333","stroke-width":0.8});
  iTicks.forEach(t=>{ const tx=el("text",g); at(tx,{x:168,y:y(t)+2.5,"text-anchor":"end","font-size":6.5}); tx.textContent=t+"%";
     
    const l=el("line",g); at(l,{x1:170,x2:173,y1:y(t),y2:y(t),stroke:"#333","stroke-width":0.6}); });
  iNormal.forEach((v,i)=>{ const j1=((i*37)%11-5)*1.5, j2=((i*23)%11-5)*1.5;
    const l=el("line",g); at(l,{x1:192+j1,y1:y(v),x2:231+j2,y2:y(iTumor[i]),stroke:"#bbb","stroke-width":0.4}); });
  iNormal.forEach((v,i)=>{ const j=((i*37)%11-5)*1.5; const c=el("circle",g); at(c,{cx:192+j,cy:y(v),r:1.4,fill:"#888",stroke:"#222","stroke-width":0.5});
      });
  iTumor.forEach((v,i)=>{ const j=((i*23)%11-5)*1.5; const c=el("circle",g); at(c,{cx:231+j,cy:y(v),r:1.4,fill:"#c58ab8",stroke:"#5a2a50","stroke-width":0.5});
      });
  [["normal",192],["tumor",230]].forEach(p=>{ const t=el("text",g); at(t,{x:p[1],y:705,"text-anchor":"middle","font-size":6.5}); t.textContent=p[0];
      });
})();

// ---------- Panel J ----------
(function(){
  const g=document.getElementById("panelJ");
  const n=jTissues.length, x0=386, step=(670-386)/(n-1);
  const yT=v=>615-v*7.6, yB=p=>663-p*0.36;
  const a1=el("path",g); at(a1,{d:"M384,575 L384,615 L673,615",fill:"none",stroke:"#333","stroke-width":0.7});
  const a2=el("path",g); at(a2,{d:"M384,625 L384,663 L673,663",fill:"none",stroke:"#333","stroke-width":0.7});
  jTopTicks.forEach(t=>{ const tx=el("text",g); at(tx,{x:381,y:yT(t)+2,"text-anchor":"end","font-size":5.5}); tx.textContent=t.toFixed(1);
      });
  [[0,"0%"],[100,"100%"]].forEach(t=>{ const tx=el("text",g); at(tx,{x:381,y:yB(t[0])+2,"text-anchor":"end","font-size":5.5}); tx.textContent=t[1];
      });
  jTissues.forEach((t,i)=>{ const cx=x0+i*step;
    const r1=el("rect",g); at(r1,{x:cx-2.4,y:yT(jAlt[i]),width:2.4,height:615-yT(jAlt[i]),fill:"#ec6a84"});
     
    const r2=el("rect",g); at(r2,{x:cx,y:yT(jRef[i]),width:2.4,height:615-yT(jRef[i]),fill:"#3bb3a3"});
     
    const r3=el("rect",g); at(r3,{x:cx-1.8,y:yB(100),width:3.6,height:yB(jAltPct[i])-yB(100),fill:"#3bb3a3"});
     
    const r4=el("rect",g); at(r4,{x:cx-1.8,y:yB(jAltPct[i]),width:3.6,height:663-yB(jAltPct[i]),fill:"#ec6a84"});
     
    const tk=el("line",g); at(tk,{x1:cx,x2:cx,y1:615,y2:618,stroke:"#333","stroke-width":0.6});
    const tk2=el("line",g); at(tk2,{x1:cx,x2:cx,y1:663,y2:666,stroke:"#333","stroke-width":0.6});
    const lb=el("text",g); at(lb,{transform:`translate(${cx+2},668) rotate(-90)`,"text-anchor":"end","font-size":5.3}); lb.textContent=t;
     
  });
  const d=el("line",g); at(d,{x1:384,x2:673,y1:yT(1),y2:yT(1),stroke:"#222","stroke-width":0.6,"stroke-dasharray":"2,1.5"});
})();
</script>
</body></html>
